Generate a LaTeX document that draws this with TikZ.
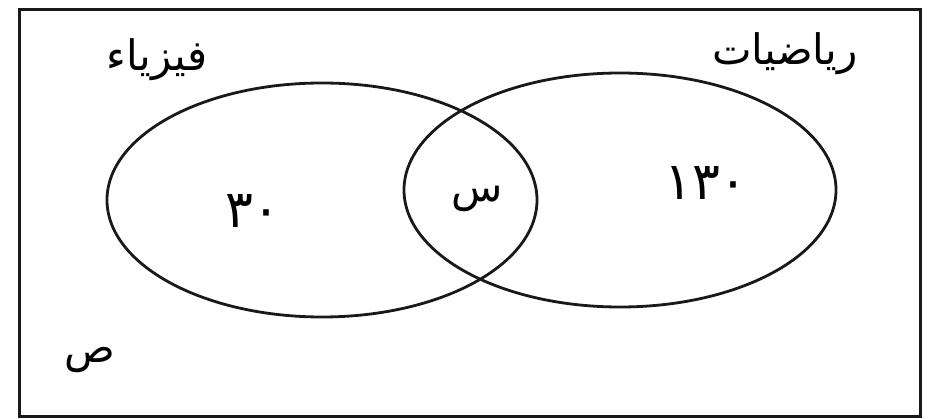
\documentclass[tikz,border=0pt]{standalone}
\usepackage{fontspec}
\TeXXeTstate=1
\newfontfamily\arabicfont[Script=Arabic]{DejaVu Sans}
\begin{document}
\begin{tikzpicture}[x=1pt,y=-1pt,
  setline/.style={line width=2.8pt, draw=black!90},
  lbl/.style={font=\arabicfont\fontsize{42}{46}\selectfont, inner sep=0pt},
  num/.style={font=\arabicfont\fontsize{52}{56}\selectfont, inner sep=0pt}]
\useasboundingbox (0,0) rectangle (928,419);
\draw[line width=3pt, draw=black!90] (19,10) rectangle (920,416);
\draw[setline] (322,200) ellipse [x radius=215, y radius=117];
\draw[setline] (620,190) ellipse [x radius=216, y radius=117];
\node[lbl] (phys) at (157,60) {\beginR فيزياء\endR};
\node[lbl] (math) at (785,54) {\beginR رياضيات\endR};
\node[num] (a) at (253,211) {٣٠};
\node[lbl] (x) at (477,199) {\beginR س\endR};
\node[num] (b) at (706,183) {١٣٠};
\node[lbl] (y) at (90,360) {\beginR ص\endR};
\end{tikzpicture}
\end{document}
